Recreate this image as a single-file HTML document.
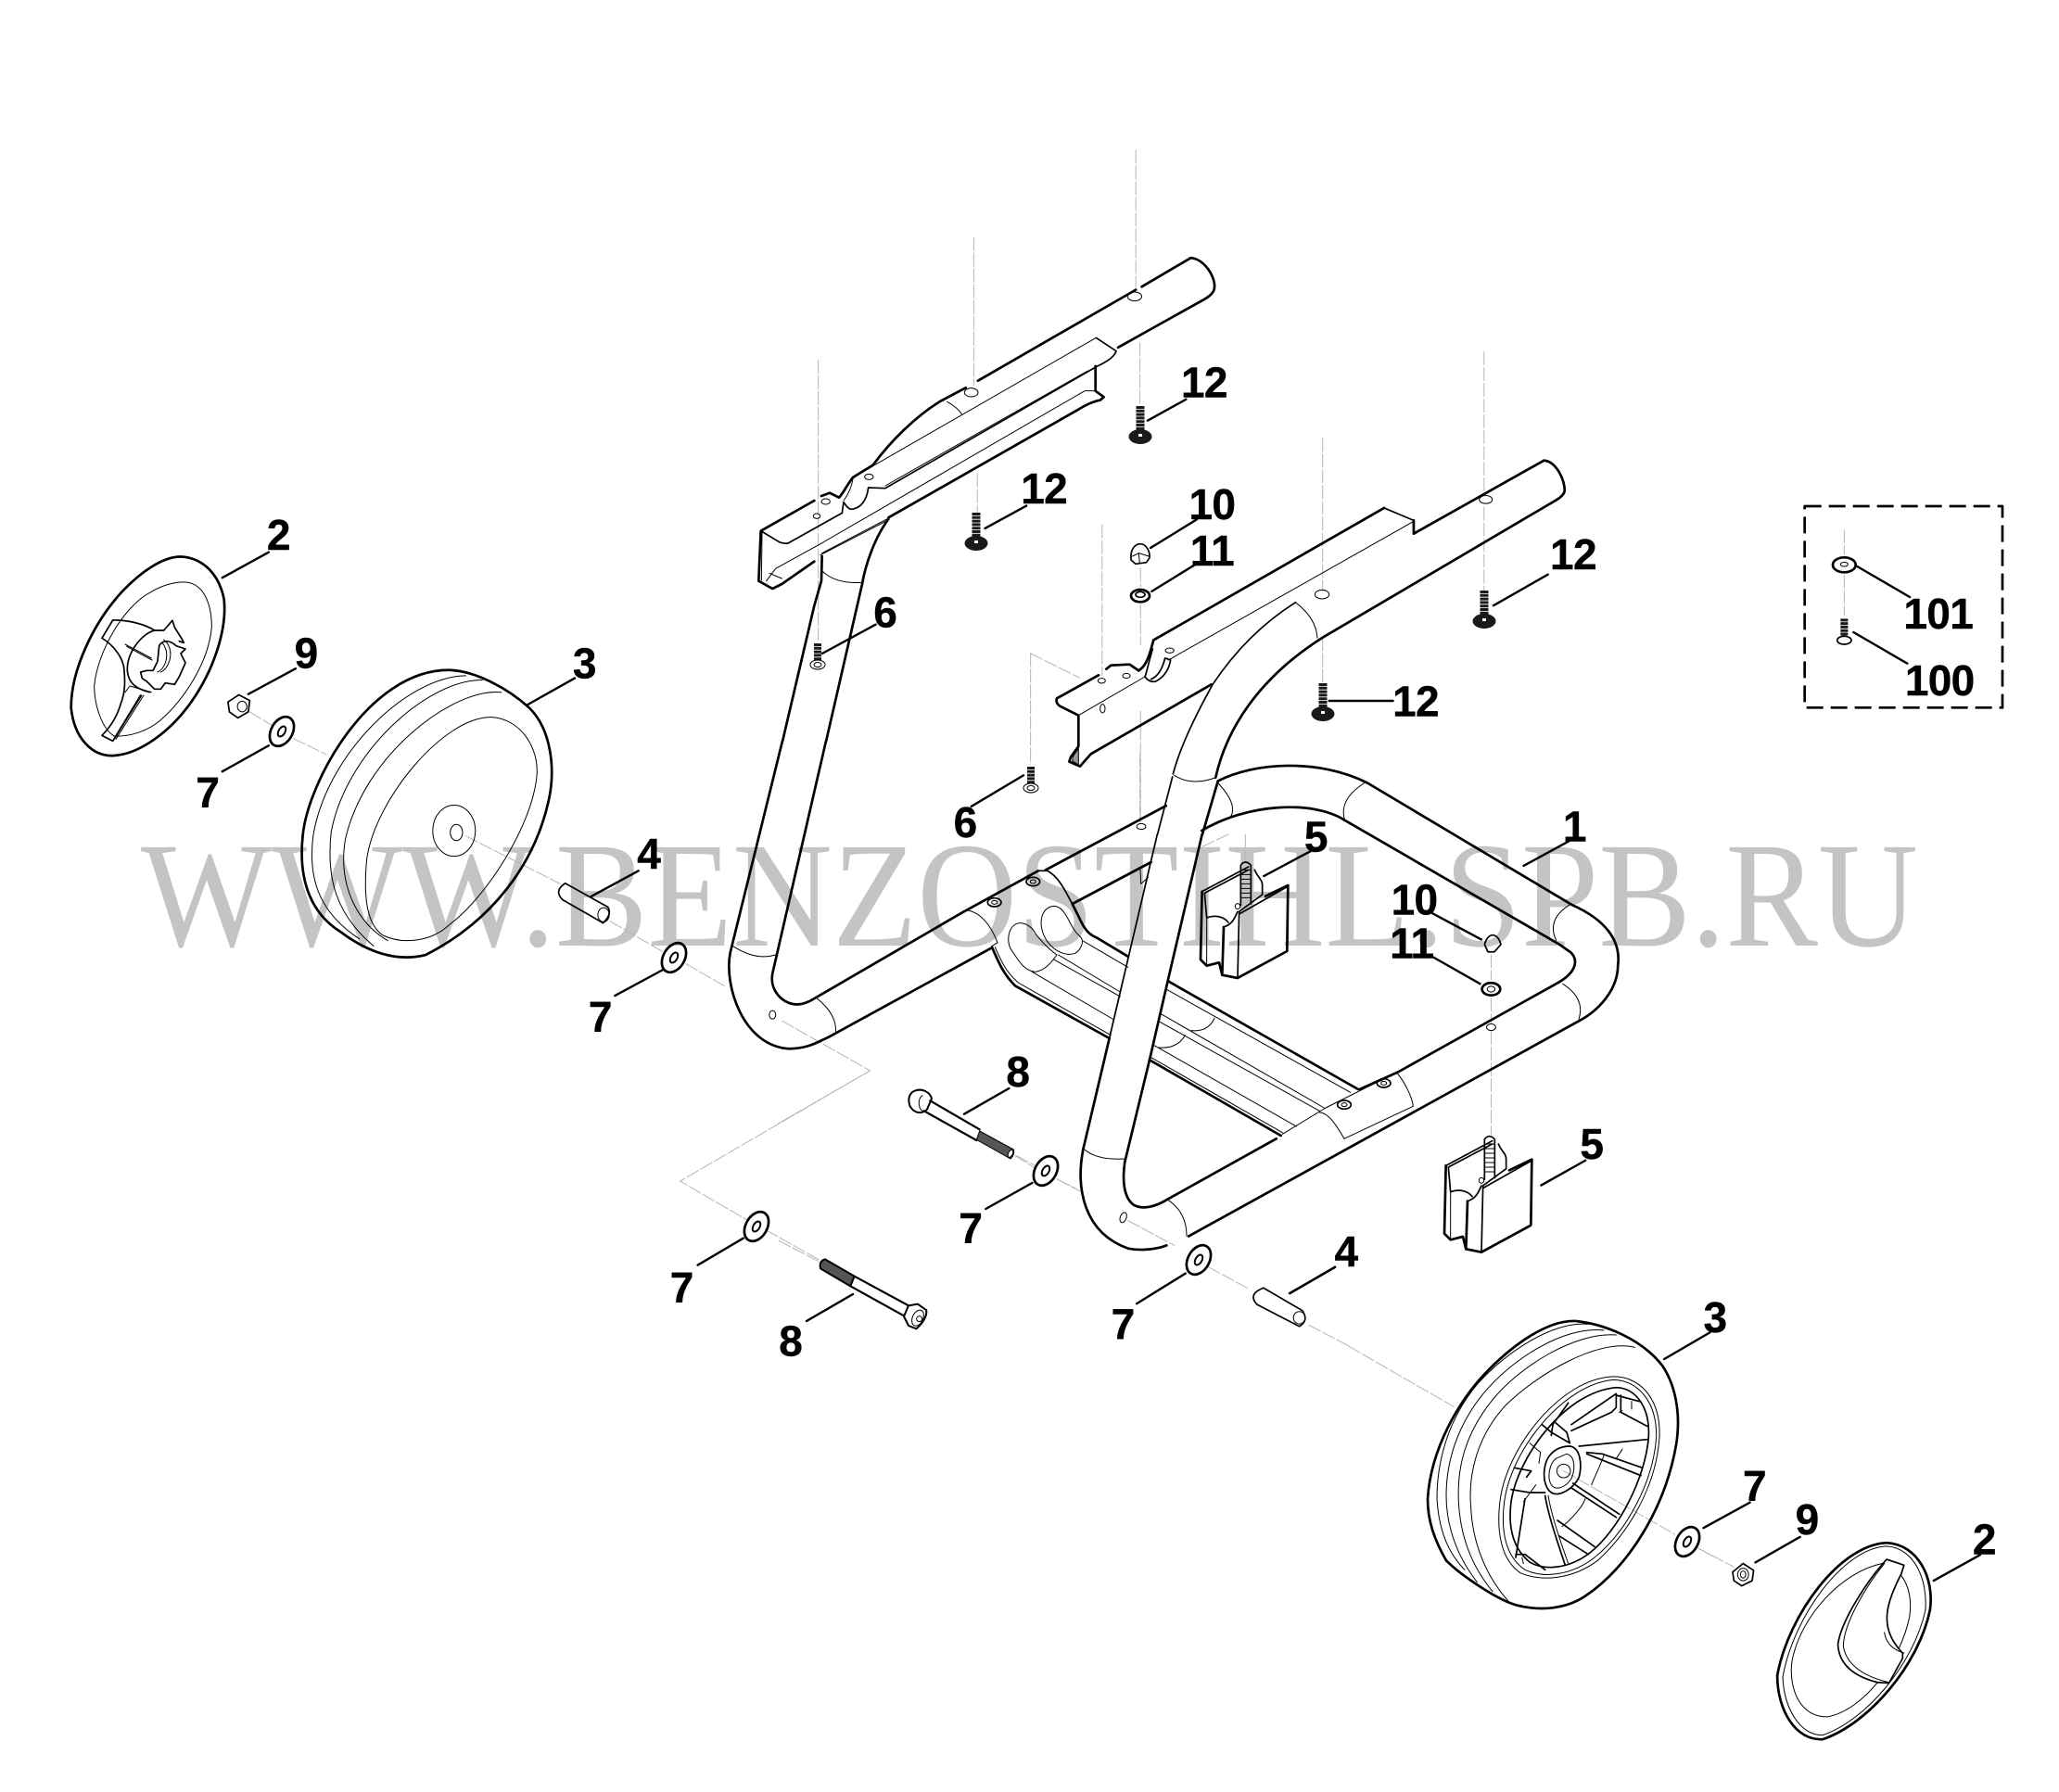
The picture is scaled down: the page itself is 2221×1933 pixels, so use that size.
<!DOCTYPE html>
<html><head><meta charset="utf-8"><style>
html,body{margin:0;padding:0;background:#fff}
svg{display:block}
svg *{vector-effect:non-scaling-stroke}
.g{fill:none;stroke:#000;stroke-linejoin:round;stroke-linecap:round}
.k{stroke-width:2.7}
.m{stroke-width:1.7}
.t{stroke-width:1}
.l{stroke-width:2.4}
.d{stroke:#b5b5b5;stroke-width:1;stroke-dasharray:14 3}
.f{fill:#1a1a1a}
.h{fill:#555}
.w{fill:#fff}
.n{font:bold 32.5px "Liberation Sans",sans-serif;fill:#000;stroke:#000;stroke-width:.4;letter-spacing:-.5px;text-anchor:middle}
</style></head><body>
<svg xmlns="http://www.w3.org/2000/svg" width="2221" height="1933" viewBox="0 0 2221 1933">
<rect width="2221" height="1933" fill="#fff"/>
<text x="152" y="1020" font-family="Liberation Serif,serif" font-size="162" fill="#c4c4c4" textLength="1917" lengthAdjust="spacingAndGlyphs">WWW.BENZOSTIHL.SPB.RU</text>

<defs>
<g id="wa" class="g"><ellipse class="k" rx="11.5" ry="17" transform="rotate(30)"/><ellipse class="k" rx="3.5" ry="6" transform="rotate(30)" style="stroke-width:2"/></g>
<g id="b12" class="g"><path d="M0,-33V-5" style="stroke:#1a1a1a;stroke-width:9;stroke-dasharray:3 .8;stroke-linecap:butt"/><ellipse class="f" rx="12.5" ry="8" style="stroke:none"/><rect x="-2" y="-3" width="4" height="3" fill="#fff" style="stroke:none"/></g>
<g id="b6" class="g"><path d="M0,-23V-3" style="stroke:#1a1a1a;stroke-width:8;stroke-dasharray:3 .8;stroke-linecap:butt"/><ellipse class="t w" rx="8" ry="5"/><ellipse class="t" rx="4" ry="2.5"/></g>
</defs>

<!-- Z1 left wheel -->
<g class="g" transform="translate(0,500) scale(.5102,.3827)">
<path class="m" d="M482,672L505,652L528,668L525,700L503,717L485,700Z"/><ellipse class="t" cx="512" cy="685" rx="10" ry="15"/>
<path class="d" d="M528,700L575,738M620,775L690,820M985,1050L1185,1185M1290,1290L1400,1375M1450,1410L1535,1475"/>
<path class="k" d="M950,582C1010,585 1080,640 1120,690C1165,750 1175,860 1160,950C1130,1130 1040,1290 900,1385C840,1405 780,1380 720,1320C660,1270 630,1180 640,1050C650,900 780,580 950,582Z"/>
<path class="t" d="M1040,715C1100,720 1140,800 1135,880C1125,1020 1030,1220 950,1300C910,1350 850,1355 810,1330C770,1295 770,1200 775,1120C790,950 940,710 1040,715Z"/>
<path class="t" d="M985,598C860,600 690,820 662,1050C650,1180 680,1270 760,1340M1020,610C900,610 730,820 700,1040C690,1170 710,1270 790,1360M1060,645C960,630 770,820 730,1060C715,1180 750,1290 820,1345"/>
<ellipse class="t" cx="960" cy="1035" rx="45" ry="72"/><ellipse class="t" cx="965" cy="1040" rx="13" ry="23"/>
<path class="m" d="M1195,1183L1285,1250Q1295,1270 1275,1295L1190,1230Q1170,1205 1195,1183Z"/><ellipse class="t" cx="1276" cy="1272" rx="12" ry="20"/>
<path class="l" d="M470,322L568,250M525,650L625,578M470,868L568,795M1115,680L1215,605M1250,1220L1350,1148M1300,1500L1400,1428"/>
</g>

<!-- left cap -->
<g class="g" transform="translate(60,590) scale(.33333)">
<path class="k" d="M415,32C480,40 530,90 545,170C555,270 510,400 440,500C370,600 270,670 190,675C120,680 60,620 50,520C50,400 120,250 210,150C270,85 350,25 415,32Z"/>
<path class="t" d="M430,115C480,125 505,185 505,260C495,370 420,490 340,560C300,595 240,615 190,612C150,590 125,510 125,450C135,340 220,190 310,145C350,120 400,110 430,115Z"/>
<path class="m" d="M185,237L150,295C190,320 220,360 222,400C225,440 225,470 210,510C195,560 170,590 150,610L185,628L275,480"/>
<path class="m" d="M185,237C230,235 290,250 320,270L350,270L378,238L385,260L410,300L415,310L400,305"/>
<path class="m" d="M320,270C280,280 230,340 232,400C235,440 260,460 305,470"/>
<path class="t" d="M225,315L310,360M230,322L312,366"/>
<path class="m" d="M335,320C345,300 370,300 390,320L420,330L405,345L420,375L400,420L385,445L355,440L340,460L320,460L295,435L280,425L275,405L295,400L315,400L330,370Z"/>
<path class="t" d="M345,310C370,340 360,390 330,405M360,310C385,345 365,395 340,405M350,300L360,310M225,470L240,450L310,470M285,480L195,622M279,480L189,624"/>
</g>

<!-- Z2 upper frame -->
<g class="g" transform="translate(750,150) scale(.6378,.4783)">
<path class="d" d="M745,25V345M752,460V600M471,222V555M477,755V845M208,498V1130M688,870V1210M1061,675V1020M1061,1125V1225M1334,480V800M1334,830V1020M753,968V1010M753,1050V1140M753,1290V1540M567,1160V1410M567,1160L650,1215"/>
<path class="k" d="M838,268L755,333M745,340L478,545M838,268C860,270 880,310 878,335C878,345 870,355 860,362L715,470"/>
<ellipse class="t" cx="743" cy="355" rx="12" ry="10"/>
<path class="l" d="M765,635L830,587M490,878L560,827M1350,1052L1442,982M1072,1267H1180M215,1160L305,1095M467,1505L555,1435M770,922L848,858M772,1020L845,960"/>
<!-- front frame top -->
<path class="k" d="M1435,725L1215,890M1215,860V890M1165,832L775,1130M1435,725C1455,725 1472,770 1470,795Q1468,805 1455,815L1060,1125"/>
<path class="m" d="M1165,832L1215,860"/>
<path class="t" d="M1215,862L800,1175"/>
<ellipse class="t" cx="1337" cy="813" rx="11" ry="9"/><ellipse class="t" cx="1060" cy="1027" rx="12" ry="10"/>
<path class="m" d="M1015,1045C950,1100 905,1170 875,1230C850,1290 820,1370 808,1432"/>
<path class="t" d="M1015,1045Q1050,1080 1052,1125M810,1435Q840,1460 880,1440"/>
<path class="k" d="M1060,1125C960,1210 900,1320 880,1440"/>
</g>

<!-- rear and front brackets -->
<g class="g" transform="translate(800,400) scale(.33333)">
<path class="k" d="M725,55L640,100C560,150 480,230 425,305L360,345"/>
<path class="t" d="M665,100Q700,120 712,140M1147,-107L430,305M1120,0L465,372"/>
<path class="m" d="M1147,-107L1212,-64Q1205,-40 1151,-15L465,380L410,378C405,420 385,445 355,448C340,445 335,430 330,425L325,460L150,558Q130,560 115,550L62,518"/>
<path class="k" d="M360,345C340,370 330,395 315,410L285,395L258,405"/>
<path class="t" d="M360,350C355,380 345,400 330,420"/>
<ellipse class="t" cx="743" cy="70" rx="22" ry="14"/><ellipse class="t" cx="412" cy="343" rx="14" ry="9"/><ellipse class="t" cx="272" cy="423" rx="14" ry="9"/><ellipse class="t" cx="243" cy="470" rx="11" ry="8"/>
<path class="k" d="M235,420L62,518L55,680L100,705L130,690L235,617"/>
<path class="t" d="M66,522L64,678"/>
<path class="k" d="M1145,-15V65L1172,85L1160,95Q1130,100 1090,125L475,475"/>
<path class="t" d="M1145,65Q1125,65 1110,65L255,560L110,640L80,680M90,655L130,672M260,590L470,480M255,596L470,485"/>
<path class="k" d="M260,600L258,680L235,760L132,1200M475,480C430,540 400,630 390,690L273,1200"/>
<path class="t" d="M258,645Q300,690 390,685"/>
<!-- front bracket -->
<path class="k" d="M1180,965L1195,953L1255,950L1285,970M1155,985L1020,1060Q1015,1075 1030,1085L1090,1115V1215L1065,1250L1060,1265L1095,1280L1130,1240L1520,1015"/>
<path class="t" d="M1090,1115L1305,990"/>
<path class="k" d="M1285,970C1310,955 1320,920 1333,871"/>
<path class="m" d="M1330,900C1315,950 1310,980 1305,990Q1320,1010 1340,1005C1370,990 1385,960 1388,935L1370,930C1360,970 1345,990 1325,998"/>
<ellipse class="t" cx="1385" cy="905" rx="14" ry="8"/><ellipse class="t" cx="1245" cy="987" rx="12" ry="8"/><ellipse class="t" cx="1165" cy="1003" rx="12" ry="8"/><ellipse class="t" cx="1168" cy="1093" rx="8" ry="14"/>
<path d="M1090,1222V1275L1070,1262L1072,1248Z" fill="#999"/>
<!-- cap nut and washer -->
<path class="m" d="M1260,605C1258,580 1272,560 1290,560C1308,560 1322,582 1320,605L1310,620L1275,625L1260,612Z"/>
<path class="t" d="M1265,600L1285,590L1318,600M1285,590L1288,622"/>
<ellipse class="k" cx="1290" cy="728" rx="30" ry="20"/><ellipse class="m" cx="1290" cy="724" rx="15" ry="9"/>
</g>

<use href="#b12" x="1230" y="471"/><use href="#b12" x="1053" y="586"/><use href="#b12" x="1601" y="670"/><use href="#b12" x="1427" y="770"/>
<use href="#b6" x="882" y="717"/><use href="#b6" x="1112" y="850"/>

<!-- Z3 lower frame -->
<g class="g" transform="translate(700,800) scale(.7015,.4464)">
<path class="d" d="M205,675L340,795L48,1062L150,1155M180,1180L265,1255M755,30V195M1295,515V575M1295,620V680M1295,700V950M1015,1410L1076,1460"/>
<path class="k" d="M205,0L125,510C115,590 145,735 215,742C245,742 260,725 275,715L525,500"/>
<path class="k" d="M272,0L190,560C185,600 205,635 228,635C240,635 250,625 255,620L485,410M610,310L795,155"/>
<path class="t" d="M130,495Q165,530 195,515M258,620Q290,660 287,705"/>
<ellipse class="t" cx="190" cy="660" rx="5" ry="10"/><ellipse class="t" cx="757" cy="205" rx="7" ry="7"/><ellipse class="t" cx="1295" cy="690" rx="7" ry="8"/>
<!-- base frame -->
<path class="k" d="M875,95C930,50 1030,40 1105,100L1420,395C1470,430 1495,480 1490,540C1490,600 1460,650 1430,675L830,1195"/>
<path class="k" d="M850,215C920,150 1020,140 1070,190L1400,490L1418,510C1430,530 1425,560 1395,585L1150,800"/>
<path class="t" d="M875,100Q905,150 895,180M1100,100Q1060,140 1070,190M1415,395Q1380,430 1395,480M1405,585Q1440,620 1430,670"/>
<path class="m" d="M805,85L782,224"/><path class="k" d="M875,95L851,224"/>
<path class="l" d="M1372,1072L1440,1012M1205,415L1280,478M1205,520L1278,585M1345,300L1415,240M75,1265L145,1200M750,1358L825,1285M985,1333L1055,1270"/>
<path class="m" d="M1285,490C1290,460 1305,460 1310,490L1300,508H1290Z"/>
<ellipse class="k" cx="1295" cy="598" rx="14" ry="15"/><ellipse class="t" cx="1295" cy="598" rx="6" ry="7"/>
<path class="m" d="M945,1320L1005,1375Q1015,1400 1000,1413L935,1360Q920,1335 945,1320Z"/><ellipse class="t" cx="1000" cy="1392" rx="9" ry="15"/>
</g>

<!-- central cross member, front leg, block 5 -->
<g class="g" transform="translate(1000,900) scale(.33333)">
<path class="d" d="M1030,0V85M975,0L880,45M285,1040L350,1080M420,1115L495,1155M650,1250L800,1330M910,1400L1040,1470"/>
<path class="t" d="M690,115L692,160L715,140"/>
<path class="k" d="M125,247L360,118"/>
<path class="t" d="M125,245C170,250 205,290 228,350L210,362"/>
<path class="m" d="M360,118L390,118C430,140 450,190 470,225"/>
<path class="k" d="M470,225L490,265C510,310 525,325 550,335L650,395M470,225L725,90"/>
<path class="k" d="M210,365C230,410 245,450 285,490L590,660"/>
<path class="t" d="M220,365C240,410 255,445 295,480L595,650"/>
<path class="t" d="M410,232C370,235 355,290 385,340C410,380 450,395 480,385C500,370 510,345 495,330C470,310 460,275 445,255C435,240 425,232 410,232Z"/>
<path class="t" d="M300,287C265,290 255,340 270,370C295,405 310,440 350,445C385,440 405,410 420,390C385,365 365,340 350,320C340,300 320,287 300,287Z"/>
<path class="t" d="M505,345L650,430M425,390L625,510M410,405L625,525M340,445L605,600M772,500L1370,835M755,580L1285,885M750,605L1270,895M730,680L1195,945M930,595Q910,640 855,635M835,650Q810,695 750,690"/>
<path class="k" d="M780,475L1395,825M720,730L1145,975"/>
<path class="t" d="M725,722L1150,965"/>
<ellipse class="m" cx="343" cy="153" rx="22" ry="14"/><ellipse class="t" cx="343" cy="153" rx="9" ry="6"/>
<ellipse class="m" cx="218" cy="220" rx="22" ry="14"/><ellipse class="t" cx="218" cy="220" rx="9" ry="6"/>
<ellipse class="m" cx="1350" cy="875" rx="22" ry="14"/><ellipse class="t" cx="1350" cy="875" rx="9" ry="6"/>
<ellipse class="m" cx="1478" cy="805" rx="22" ry="14"/><ellipse class="t" cx="1478" cy="805" rx="9" ry="6"/>
<path class="t" d="M1150,970L1290,885L1520,770M1270,900C1300,900 1330,950 1350,985L1573,880C1570,850 1545,800 1520,771"/>
<path class="k" d="M1400,825L1520,771"/>
<!-- front leg -->
<path class="m" d="M745,0L590,660"/>
<path class="k" d="M590,660L505,1020C480,1150 510,1290 650,1340C700,1350 750,1340 775,1330"/>
<path class="k" d="M890,0L780,470L720,730L640,1060C630,1130 640,1180 670,1200C700,1215 740,1205 780,1180L1130,985"/>
<path class="t" d="M510,1020Q550,1055 640,1050M775,1180Q840,1220 840,1300"/>
<ellipse class="t" cx="635" cy="1240" rx="10" ry="17" transform="rotate(20 635 1240)"/>
<!-- block -->
<g id="b5">
<path class="k" d="M890,185L885,405L905,425L945,415L955,455L1005,465L1165,378L1168,165L1095,200"/>
<path class="m" d="M890,185L1040,105M898,190L1040,115M898,190L905,270C930,260 960,265 975,285M1060,115C1070,140 1085,145 1085,165V195L1010,250L1005,465M1165,170L1010,258"/>
<path class="t" d="M905,270V420"/>
<path class="k" d="M960,300L955,455"/>
<path class="m" d="M960,300C990,290 995,270 1005,250"/>
<path class="m" d="M1015,230V100Q1030,80 1048,100V225"/>
<path class="t" d="M1015,115H1048M1015,130H1048M1015,145H1048M1015,160H1048M1015,175H1048M1015,190H1048M1015,205H1048"/>
<ellipse class="t" cx="1005" cy="233" rx="8" ry="9"/>
</g>
<use href="#b5" transform="translate(789,887)"/>
<path class="l" d="M1090,135L1240,55M1175,1485L1320,1400"/>
</g>

<!-- bolts 8 -->
<g class="g" transform="translate(840,1150) scale(.33333)">
<path class="d" d="M295,15L0,185M0,565L130,632M770,290L830,322M905,368L960,395"/>
<path class="k" d="M440,80C465,70 490,85 495,105L480,140C465,155 440,155 425,130C415,105 425,85 440,80Z" style="stroke-width:2"/>
<path class="t" d="M465,95C450,105 450,135 465,145"/>
<path class="k" d="M490,112L650,205M470,145L640,240" style="stroke-width:2.2"/>
<path class="h" d="M650,210L760,270Q765,285 750,300L640,238Z" style="stroke:#000;stroke-width:1"/>
<ellipse class="w t" cx="750" cy="283" rx="7" ry="13" transform="rotate(25 750 283)"/>
<path class="k" d="M245,680L420,775M232,712L405,808" style="stroke-width:2.2"/>
<path class="h" d="M150,625L245,680L232,712L135,655Q130,630 150,625Z" style="stroke:#000;stroke-width:2"/>
<path class="k" d="M420,775L450,770L478,790Q480,820 445,850L420,840L405,810Z" style="stroke-width:2"/>
<ellipse class="t" cx="450" cy="815" rx="17" ry="27" transform="rotate(25 450 815)"/><circle class="t" cx="455" cy="818" r="9"/>
<path class="l" d="M600,155L745,72M90,825L240,738M670,462L820,378"/>
</g>

<!-- right wheel -->
<g class="g" transform="translate(1530,1420) scale(.33333)">
<path class="d" d="M470,500L830,705M915,755L960,780"/>
<path class="k" d="M510,15C600,25 720,70 790,160C830,220 850,310 835,410C800,620 680,810 540,905C480,945 400,955 320,935C260,920 140,840 90,790C50,720 30,660 30,590C40,430 130,270 230,170C310,90 420,10 510,15Z"/>
<path class="t" d="M550,25C430,15 280,120 190,220C90,340 60,480 60,590C65,680 90,760 150,820M600,45C470,30 300,140 210,250C120,360 90,480 90,580C90,670 120,770 190,860M640,60C500,50 320,170 240,270C150,380 125,490 130,600C135,700 165,800 240,890M700,100C580,70 380,190 280,290C190,390 160,510 170,620C175,720 210,830 290,920"/>
<path class="t" d="M625,195C710,190 785,260 780,390C770,550 680,700 580,790C500,850 400,860 330,830C270,790 250,700 265,590C290,420 460,205 625,195ZM630,205C705,205 772,270 770,390C760,540 670,700 570,780C500,835 410,850 345,820C285,780 265,700 278,600C300,430 470,220 630,205Z"/>
<path class="m" d="M640,230C700,230 750,290 745,390C735,520 650,690 555,765C490,815 410,825 360,795C305,750 290,680 300,600C320,460 470,245 640,230Z"/>
<path class="m" d="M495,350L640,250V295L625,310L495,370M640,255L715,275M655,255V310L740,355M485,280L435,350L430,385M400,350L430,375L490,410L480,375L445,345M520,420L740,398M545,440L595,445L725,490M545,445L720,515M500,540L650,640M495,555L640,650M450,660L570,745M455,710L550,770M410,580C420,640 440,700 475,805M345,590L315,780M315,770L345,770L410,820M300,560L360,570L410,570M310,490L365,500L350,520"/>
<path class="t" d="M690,275V300M660,305L650,310M360,410L395,440L390,475M540,590C530,620 490,660 465,680M420,580C430,640 450,700 485,800M335,780L340,800M380,545L340,600M600,450C590,480 570,520 560,545M660,430L640,460"/>
<path class="m" d="M490,420C525,425 530,480 520,520C500,560 455,585 430,570C400,550 400,480 425,450C445,425 470,420 490,420Z"/>
<path class="t" d="M480,445C505,450 510,490 495,525C475,555 445,565 430,545C415,520 425,475 445,460Z"/>
<circle class="t" cx="470" cy="500" r="22"/>
</g>

<!-- washers -->
<use href="#wa" x="304" y="789"/><use href="#wa" x="727" y="1033"/><use href="#wa" x="1128" y="1263"/><use href="#wa" x="816" y="1323"/><use href="#wa" x="1293" y="1359"/><use href="#wa" x="1820" y="1663"/>

<!-- Z4 nut, cap -->
<g class="g" transform="translate(1450,1350) scale(.4917,.3718)">
<path class="d" d="M10,275L240,450M775,860L855,915"/>
<path class="m" d="M852,930L875,905L898,925L895,955L872,970L855,955Z"/><ellipse class="t" cx="875" cy="937" rx="12" ry="18"/><ellipse class="t" cx="875" cy="937" rx="6" ry="10"/>
<path class="k" d="M1190,845C1260,850 1295,950 1285,1040C1260,1200 1150,1370 1050,1415C990,1420 950,1330 950,1230C975,1050 1090,850 1190,845Z"/>
<path class="t" d="M1190,855C1250,860 1280,950 1275,1040C1250,1195 1145,1360 1050,1403C1000,1405 965,1325 962,1235C985,1060 1095,860 1190,855Z"/>
<path class="t" d="M1180,905C1230,920 1248,990 1240,1060C1220,1190 1140,1330 1060,1350C1000,1350 975,1270 982,1190C1000,1060 1090,930 1180,905Z"/>
<path class="w m" d="M1190,893L1228,910L1222,935C1190,1020 1170,1090 1225,1165V1180L1195,1252L1170,1250C1110,1230 1085,1190 1083,1140C1090,1070 1150,950 1190,893Z"/>
<path class="t" d="M1185,905C1145,970 1095,1080 1095,1145C1100,1190 1130,1230 1195,1250M1185,1105Q1190,1150 1228,1165"/>
<path class="l" d="M702,312L802,235M788,802L890,728M902,902L1000,828M1293,955L1395,880"/>
</g>

<!-- Z5 inset -->
<g class="g" transform="translate(1900,500) scale(.33333)">
<rect x="140" y="138" width="640" height="652" class="k" style="stroke-dasharray:18 8;stroke-linecap:butt"/>
<path class="d" d="M268,215V295M268,360V490"/>
<ellipse class="k" cx="268" cy="328" rx="37" ry="24"/><ellipse class="t" cx="268" cy="326" rx="12" ry="7"/>
<path d="M268,502V565" style="stroke:#1a1a1a;stroke-width:8;stroke-dasharray:3 .8;stroke-linecap:butt"/><ellipse class="m w" cx="268" cy="572" rx="23" ry="13"/>
<path class="l" d="M310,333L480,432M298,546L472,647"/>
</g>

<g transform="scale(1.4165) translate(0,-1.5)">
<text class="n" x="1199" y="642">1</text>
<text class="n" x="212" y="420">2</text>
<text class="n" x="445" y="518">3</text>
<text class="n" x="494" y="663">4</text>
<text class="n" x="1002" y="650">5</text>
<text class="n" x="1212" y="884">5</text>
<text class="n" x="674" y="479">6</text>
<text class="n" x="735" y="639">6</text>
<text class="n" x="158" y="616">7</text>
<text class="n" x="457" y="787">7</text>
<text class="n" x="739" y="948">7</text>
<text class="n" x="519" y="993">7</text>
<text class="n" x="855" y="1021">7</text>
<text class="n" x="1336" y="1144">7</text>
<text class="n" x="775" y="829">8</text>
<text class="n" x="602" y="1034">8</text>
<text class="n" x="233" y="510">9</text>
<text class="n" x="1376" y="1170">9</text>
<text class="n" x="923" y="397">10</text>
<text class="n" x="923" y="432">11</text>
<text class="n" x="1077" y="698">10</text>
<text class="n" x="1075" y="731">11</text>
<text class="n" x="917" y="304">12</text>
<text class="n" x="795" y="385">12</text>
<text class="n" x="1198" y="435">12</text>
<text class="n" x="1078" y="547">12</text>
<text class="n" x="1306" y="1016">3</text>
<text class="n" x="1025" y="966">4</text>
<text class="n" x="1511" y="1185">2</text>
<text class="n" x="1476" y="480">101</text>
<text class="n" x="1477" y="531">100</text>
</g>
</svg>
</body></html>
